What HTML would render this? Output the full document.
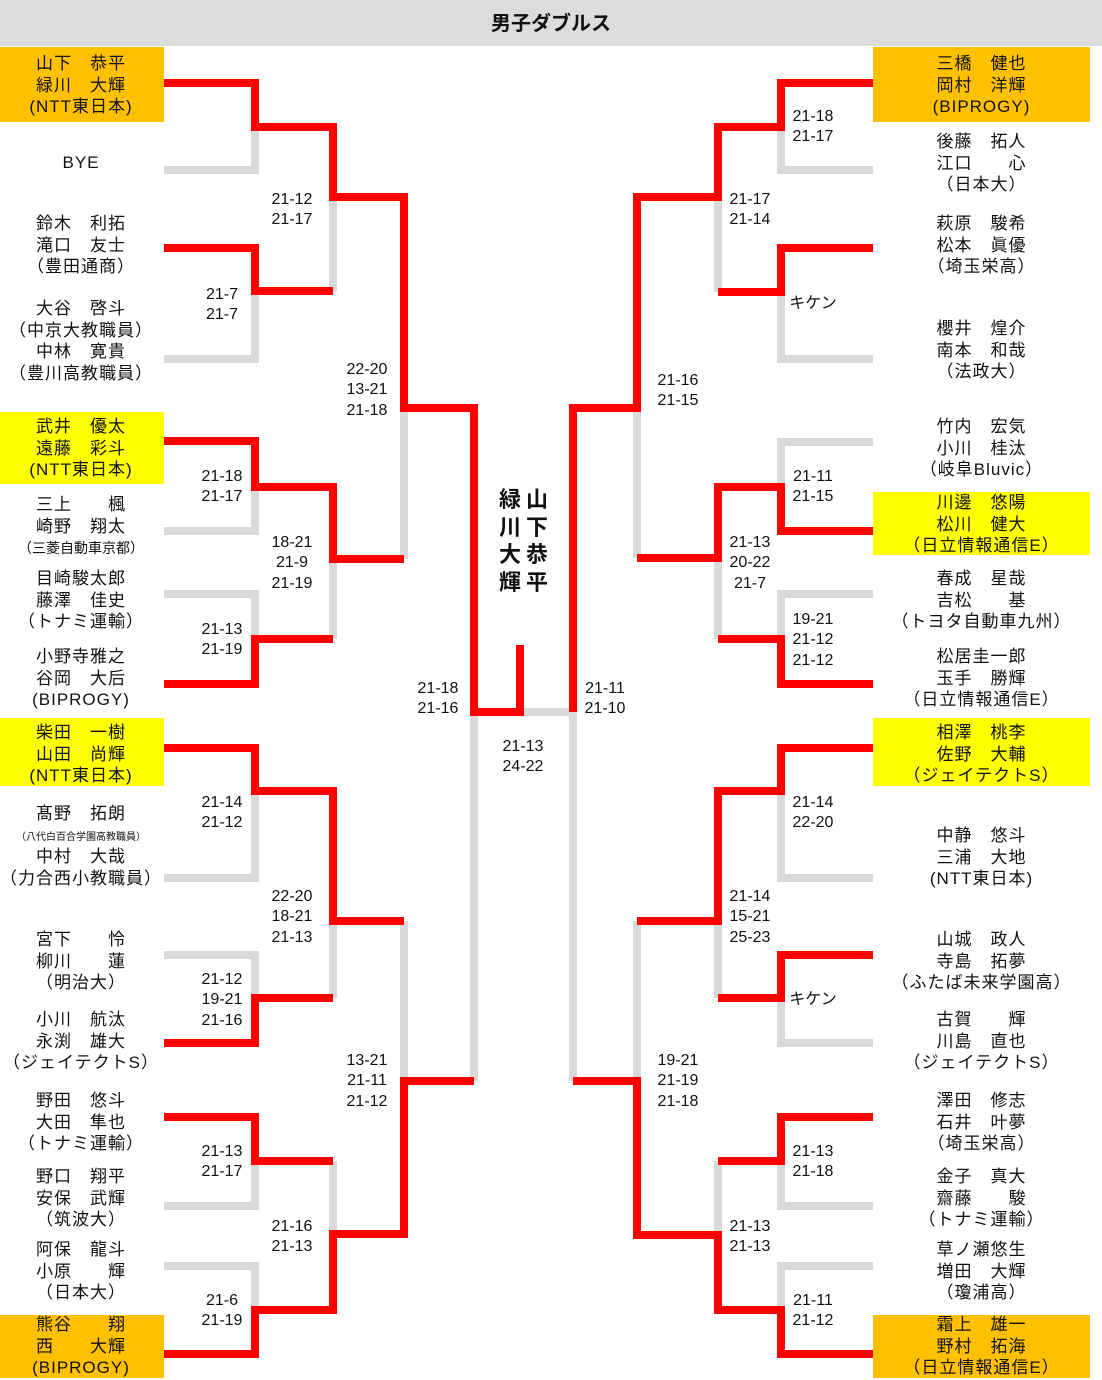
<!DOCTYPE html>
<html><head><meta charset="utf-8">
<style>
html,body{margin:0;padding:0;}
body{width:1102px;height:1380px;position:relative;background:#fff;overflow:hidden;font-family:"Liberation Sans","Noto Sans CJK JP",sans-serif;color:#111;}
.hdr{position:absolute;left:0;top:0;width:1102px;height:46px;background:#dcdcdc;text-align:center;line-height:48px;font-size:20px;font-weight:bold;}
.box{position:absolute;}
.or{background:#ffc000;}
.ye{background:#ffff00;}
.n{position:absolute;text-align:center;font-size:17px;letter-spacing:1px;line-height:21.5px;white-space:nowrap;}
.L{left:0;width:162px;}
.R{left:873px;width:217px;}
.s{position:absolute;font-size:16px;line-height:20.3px;white-space:nowrap;text-align:center;width:50px;}
svg{position:absolute;left:0;top:0;}
.champ{position:absolute;font-size:22px;font-weight:bold;line-height:27.5px;width:26px;text-align:center;}
</style></head><body>
<div class="hdr">男子ダブルス</div>
<div class="box or" style="left:0;top:47px;width:164px;height:75px"></div>
<div class="box ye" style="left:0;top:412px;width:164px;height:72px"></div>
<div class="box ye" style="left:0;top:718px;width:164px;height:68px"></div>
<div class="box or" style="left:0;top:1315px;width:164px;height:63px"></div>
<div class="box or" style="left:873px;top:47px;width:217px;height:75px"></div>
<div class="box ye" style="left:873px;top:492px;width:217px;height:63px"></div>
<div class="box ye" style="left:873px;top:718px;width:217px;height:68px"></div>
<div class="box or" style="left:873px;top:1315px;width:217px;height:63px"></div>

<svg width="1102" height="1380" viewBox="0 0 1102 1380">
<g fill="none" stroke="#d9d9d9" stroke-width="8" stroke-linejoin="miter">
<path d="M164 170 H255 V127"/><path d="M164 359 H255 V291"/><path d="M333 197 V291"/>
<path d="M164 531 H255 V487"/><path d="M164 594 H255 V639"/><path d="M333 559 V639"/>
<path d="M404 408 V559"/>
<path d="M164 878 H255 V791"/><path d="M164 955 H255 V998"/><path d="M333 921 V998"/>
<path d="M404 921 V1081"/>
<path d="M164 1206 H255 V1161"/><path d="M164 1266 H255 V1310"/><path d="M333 1161 V1234"/>
<path d="M474 712 V1081"/><path d="M520 712 H573"/><path d="M573 712 V1081"/>
<path d="M873 170 H781 V127"/><path d="M873 359 H781 V292"/><path d="M718 197 V292"/>
<path d="M873 442 H781 V487"/><path d="M873 594 H781 V639"/><path d="M718 558 V639"/>
<path d="M637 408 V558"/>
<path d="M873 878 H781 V791"/><path d="M873 1043 H781 V998"/><path d="M718 921 V998"/>
<path d="M637 921 V1081"/>
<path d="M873 1206 H781 V1161"/><path d="M873 1266 H781 V1310"/><path d="M718 1161 V1235"/>
</g>
<g fill="none" stroke="#ff0000" stroke-width="8" stroke-linejoin="miter">
<path d="M164 83 H255 V127 H333 V197 H404 V408 H474 V712 H520 V645"/>
<path d="M164 248 H255 V291 H333"/>
<path d="M164 441 H255 V487 H333 V559 H404"/>
<path d="M164 684 H255 V639 H333"/>
<path d="M164 748 H255 V791 H333 V921 H404"/>
<path d="M164 1043 H255 V998 H333"/>
<path d="M164 1117 H255 V1161 H333"/>
<path d="M164 1354 H255 V1310 H333 V1234 H404 V1081 H474"/>
<path d="M873 83 H781 V127 H718 V197 H637 V408 H573 V712"/>
<path d="M873 248 H781 V292 H718"/>
<path d="M873 531 H781 V487 H718 V558 H637"/>
<path d="M873 684 H781 V639 H718"/>
<path d="M873 748 H781 V791 H718 V921 H637"/>
<path d="M873 955 H781 V998 H718"/>
<path d="M873 1117 H781 V1161 H718"/>
<path d="M873 1354 H781 V1310 H718 V1235 H637 V1081 H573"/>
</g>
</svg>

<!-- left names -->
<div class="n L" style="top:53px">山下　恭平<br>緑川　大輝<br>(NTT東日本)</div>
<div class="n L" style="top:152px">BYE</div>
<div class="n L" style="top:213px">鈴木　利拓<br>滝口　友士<br>（豊田通商）</div>
<div class="n L" style="top:298px">大谷　啓斗<br>（中京大教職員）<br>中林　寛貴<br>（豊川高教職員）</div>
<div class="n L" style="top:416px">武井　優太<br>遠藤　彩斗<br>(NTT東日本)</div>
<div class="n L" style="top:494px">三上　　楓<br>崎野　翔太<br><span style="font-size:14px;letter-spacing:0">（三菱自動車京都）</span></div>
<div class="n L" style="top:568px">目崎駿太郎<br>藤澤　佳史<br>（トナミ運輸）</div>
<div class="n L" style="top:646px">小野寺雅之<br>谷岡　大后<br>(BIPROGY)</div>
<div class="n L" style="top:722px">柴田　一樹<br>山田　尚輝<br>(NTT東日本)</div>
<div class="n L" style="top:803px">髙野　拓朗</div>
<div class="n L" style="top:831px;font-size:10px;letter-spacing:0;line-height:14px">（八代白百合学園高教職員）</div>
<div class="n L" style="top:846px">中村　大哉<br>（力合西小教職員）</div>
<div class="n L" style="top:929px">宮下　　怜<br>柳川　　蓮<br>（明治大）</div>
<div class="n L" style="top:1009px">小川　航汰<br>永渕　雄大<br>（ジェイテクトS）</div>
<div class="n L" style="top:1090px">野田　悠斗<br>大田　隼也<br>（トナミ運輸）</div>
<div class="n L" style="top:1166px">野口　翔平<br>安保　武輝<br>（筑波大）</div>
<div class="n L" style="top:1239px">阿保　龍斗<br>小原　　輝<br>（日本大）</div>
<div class="n L" style="top:1314px">熊谷　　翔<br>西　　大輝<br>(BIPROGY)</div>

<!-- right names -->
<div class="n R" style="top:53px">三橋　健也<br>岡村　洋輝<br>(BIPROGY)</div>
<div class="n R" style="top:131px">後藤　拓人<br>江口　　心<br>（日本大）</div>
<div class="n R" style="top:213px">萩原　駿希<br>松本　眞優<br>（埼玉栄高）</div>
<div class="n R" style="top:318px">櫻井　煌介<br>南本　和哉<br>（法政大）</div>
<div class="n R" style="top:416px">竹内　宏気<br>小川　桂汰<br>（岐阜Bluvic）</div>
<div class="n R" style="top:492px">川邊　悠陽<br>松川　健大<br>（日立情報通信E）</div>
<div class="n R" style="top:568px">春成　星哉<br>吉松　　基<br>（トヨタ自動車九州）</div>
<div class="n R" style="top:646px">松居圭一郎<br>玉手　勝輝<br>（日立情報通信E）</div>
<div class="n R" style="top:722px">相澤　桃李<br>佐野　大輔<br>（ジェイテクトS）</div>
<div class="n R" style="top:825px">中静　悠斗<br>三浦　大地<br>(NTT東日本)</div>
<div class="n R" style="top:929px">山城　政人<br>寺島　拓夢<br>（ふたば未来学園高）</div>
<div class="n R" style="top:1009px">古賀　　輝<br>川島　直也<br>（ジェイテクトS）</div>
<div class="n R" style="top:1090px">澤田　修志<br>石井　叶夢<br>（埼玉栄高）</div>
<div class="n R" style="top:1166px">金子　真大<br>齋藤　　駿<br>（トナミ運輸）</div>
<div class="n R" style="top:1239px">草ノ瀬悠生<br>増田　大輝<br>（瓊浦高）</div>
<div class="n R" style="top:1314px">霜上　雄一<br>野村　拓海<br>（日立情報通信E）</div>

<!-- left scores -->
<div class="s" style="left:267px;top:190px">21-12<br>21-17</div>
<div class="s" style="left:197px;top:285px">21-7<br>21-7</div>
<div class="s" style="left:342px;top:360px">22-20<br>13-21<br>21-18</div>
<div class="s" style="left:197px;top:467px">21-18<br>21-17</div>
<div class="s" style="left:267px;top:533px">18-21<br>21-9<br>21-19</div>
<div class="s" style="left:197px;top:620px">21-13<br>21-19</div>
<div class="s" style="left:413px;top:679px">21-18<br>21-16</div>
<div class="s" style="left:197px;top:793px">21-14<br>21-12</div>
<div class="s" style="left:267px;top:887px">22-20<br>18-21<br>21-13</div>
<div class="s" style="left:197px;top:970px">21-12<br>19-21<br>21-16</div>
<div class="s" style="left:342px;top:1051px">13-21<br>21-11<br>21-12</div>
<div class="s" style="left:197px;top:1142px">21-13<br>21-17</div>
<div class="s" style="left:267px;top:1217px">21-16<br>21-13</div>
<div class="s" style="left:197px;top:1291px">21-6<br>21-19</div>
<div class="s" style="left:498px;top:737px">21-13<br>24-22</div>

<!-- right scores -->
<div class="s" style="left:788px;top:107px">21-18<br>21-17</div>
<div class="s" style="left:725px;top:190px">21-17<br>21-14</div>
<div class="s" style="left:788px;top:294px">キケン</div>
<div class="s" style="left:653px;top:371px">21-16<br>21-15</div>
<div class="s" style="left:788px;top:467px">21-11<br>21-15</div>
<div class="s" style="left:725px;top:533px">21-13<br>20-22<br>21-7</div>
<div class="s" style="left:788px;top:610px">19-21<br>21-12<br>21-12</div>
<div class="s" style="left:580px;top:679px">21-11<br>21-10</div>
<div class="s" style="left:788px;top:793px">21-14<br>22-20</div>
<div class="s" style="left:725px;top:887px">21-14<br>15-21<br>25-23</div>
<div class="s" style="left:788px;top:990px">キケン</div>
<div class="s" style="left:653px;top:1051px">19-21<br>21-19<br>21-18</div>
<div class="s" style="left:788px;top:1142px">21-13<br>21-18</div>
<div class="s" style="left:725px;top:1217px">21-13<br>21-13</div>
<div class="s" style="left:788px;top:1291px">21-11<br>21-12</div>

<div class="champ" style="left:524px;top:486px">山<br>下<br>恭<br>平</div>
<div class="champ" style="left:497px;top:486px">緑<br>川<br>大<br>輝</div>
</body></html>
